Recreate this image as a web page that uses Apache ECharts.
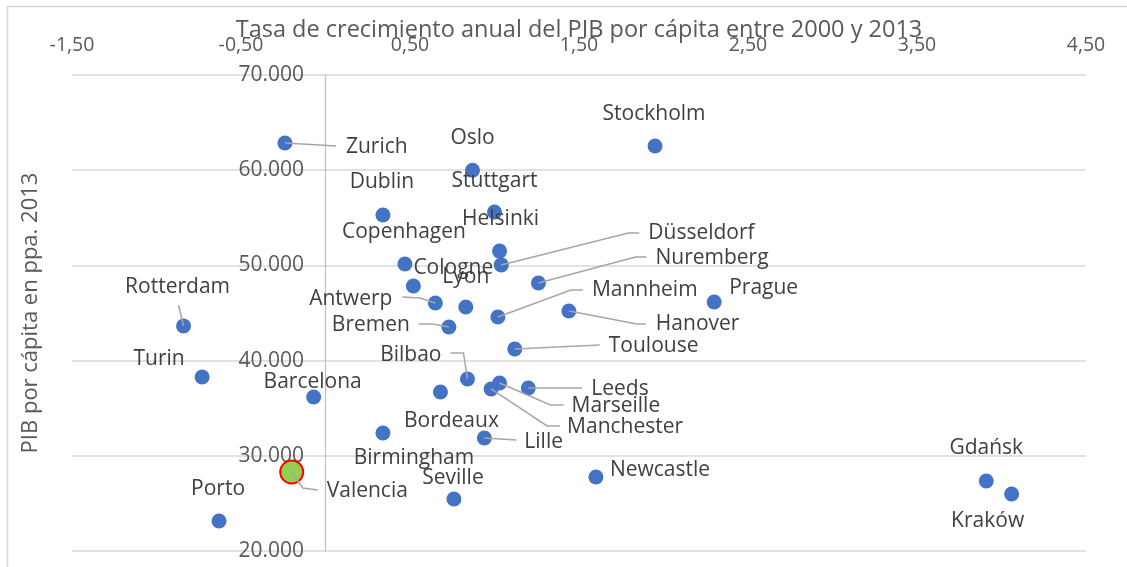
<!DOCTYPE html>
<html><head><meta charset="utf-8">
<script src="https://cdn.jsdelivr.net/npm/echarts@6/dist/echarts.min.js"></script>
<style>html,body{margin:0;padding:0;background:#fff}#c{width:1127px;height:567px}</style>
</head><body><div id="c"></div>
<script>
// ---- data ----
const cities = ['Zurich','Oslo','Stockholm','Stuttgart','Dublin','Helsinki','Copenhagen','Düsseldorf','Cologne','Lyon','Nuremberg','Antwerp','Bremen','Mannheim','Hanover','Prague','Toulouse','Rotterdam','Turin','Barcelona','Valencia','Porto','Bordeaux','Birmingham','Seville','Bilbao','Lille','Manchester','Marseille','Leeds','Newcastle','Gdańsk','Kraków'];
const growth = [-0.24,0.87,1.95,1.00,0.34,1.03,0.47,1.04,0.52,0.83,1.26,0.65,0.73,1.02,1.44,2.30,1.12,-0.84,-0.73,-0.07,-0.20,-0.63,0.68,0.34,0.76,0.84,0.94,0.98,1.03,1.20,1.60,3.91,4.06];
const gdp = [62860,60000,62540,55600,55300,51500,50150,50050,47840,45630,48150,46050,43530,44580,45210,46160,41220,43630,38280,36180,28300,23150,36700,32400,25460,38070,31870,37020,37650,37120,27770,27350,25990];
const xTickLabels = ['-1,50','-0,50','0,50','1,50','2,50','3,50','4,50'];
const yTickLabels = ['20.000','30.000','40.000','50.000','60.000','70.000'];
const highlighted = 'Valencia';
const xTitle = 'Tasa de crecimiento anual del PIB por cápita entre 2000 y 2013';
const yTitle = 'PIB por cápita en ppa. 2013';

// ---- label placement (pixel offsets from the dot) and leader lines ----
const place = {
  'Zurich':{o:[61,4],a:'left',l:[[0,0],[51,3]]},
  'Oslo':{o:[0,-32]},
  'Stockholm':{o:[-1,-32]},
  'Stuttgart':{o:[0,-31]},
  'Dublin':{o:[-1,-33]},
  'Helsinki':{o:[1,-32]},
  'Copenhagen':{o:[-1,-32]},
  'Düsseldorf':{o:[147,-32],a:'left',l:[[0,0],[127,-32],[138,-32]]},
  'Cologne':{o:[0,-18],a:'left'},
  'Lyon':{o:[0,-30]},
  'Nuremberg':{o:[117,-25],a:'left',l:[[0,0],[97,-26],[108,-26]]},
  'Antwerp':{o:[-43,-4],a:'right',l:[[0,0],[-15,-5],[-33,-6]]},
  'Bremen':{o:[-39,-2],a:'right',l:[[0,0],[-16,-3],[-30,-3]]},
  'Mannheim':{o:[94,-27],a:'left',l:[[0,0],[73,-27],[85,-27]]},
  'Hanover':{o:[87,13],a:'left',l:[[0,0],[68,13],[77,13]]},
  'Prague':{o:[15,-14],a:'left'},
  'Toulouse':{o:[94,-3],a:'left',l:[[0,0],[85,-4]]},
  'Rotterdam':{o:[-6,-39],l:[[0,0],[-5,-21]]},
  'Turin':{o:[-43,-18]},
  'Barcelona':{o:[-1,-15]},
  'Valencia':{o:[35,19],a:'left',l:[[0,0],[11,16],[26,18]]},
  'Porto':{o:[-1,-32]},
  'Bordeaux':{o:[11,29]},
  'Birmingham':{o:[31,25]},
  'Seville':{o:[-1,-21]},
  'Bilbao':{o:[-26,-24],a:'right',l:[[0,0],[-4,-26],[-17,-26]]},
  'Lille':{o:[40,4],a:'left',l:[[0,0],[32,2]]},
  'Manchester':{o:[76,38],a:'left',l:[[0,0],[56,37],[69,37]]},
  'Marseille':{o:[72,23],a:'left',l:[[0,0],[51,22],[64,22]]},
  'Leeds':{o:[63,1],a:'left',l:[[0,0],[54,0]]},
  'Newcastle':{o:[14,-7],a:'left'},
  'Gdańsk':{o:[0,-33]},
  'Kraków':{o:[-24,27]}
};

const FONT = '"Open Sans", "Noto Sans", sans-serif';
const chart = echarts.init(document.getElementById('c'), null, {renderer:'canvas'});

const scatterData = cities.map((name, i) => {
  const p = place[name] || {o:[0,-30]};
  const item = {
    name: name,
    value: [growth[i], gdp[i]],
    label: {align: p.a || 'center'}
  };
  if (name === highlighted) {
    item.symbolSize = 23;
    item.itemStyle = {color:'#92D050', borderColor:'#FF0000', borderWidth:2, opacity:1};
  }
  return item;
});
const leaderData = [];
cities.forEach((name, i) => { if (place[name] && place[name].l) leaderData.push([growth[i], gdp[i], i]); });

chart.setOption({
  animation: false,
  backgroundColor: '#ffffff',
  textStyle: {fontFamily: FONT},
  graphic: [{type:'rect', left:5, top:4, shape:{width:1300, height:700}, style:{fill:'none', stroke:'#d9d9d9', lineWidth:1.5}, silent:true, z:-10}],
  grid: {left:72, right:41, top:75, bottom:16, containLabel:false, outerBoundsMode:'none'},
  xAxis: {
    type:'value', position:'top', min:-1.5, max:4.5, interval:1,
    axisLine:{show:false, onZero:false}, axisTick:{show:false}, splitLine:{show:false},
    axisLabel:{margin:20, fontSize:19.5, color:'#595959', fontFamily:FONT,
      formatter: v => xTickLabels[Math.round(v + 1.5)]},
    name: xTitle, nameLocation:'middle', nameGap:33, nameMoveOverlap:false,
    nameTextStyle:{fontSize:23.5, color:'#595959', fontFamily:FONT}
  },
  yAxis: {
    type:'value', min:20000, max:70000, interval:10000,
    axisLine:{show:true, onZero:true, lineStyle:{color:'#bfbfbf', width:1.2}},
    axisTick:{show:false},
    splitLine:{show:true, lineStyle:{color:'#d9d9d9', width:1.5}},
    axisLabel:{margin:-232, fontSize:21, color:'#595959', fontFamily:FONT,
      formatter: v => yTickLabels[Math.round((v - 20000) / 10000)]},
    name: yTitle, nameLocation:'middle', nameRotate:90, nameGap:30,
    nameTextStyle:{fontSize:22, color:'#595959', fontFamily:FONT}
  },
  series: [
    {
      type:'scatter', symbolSize:15, z:2,
      itemStyle:{color:'#4472C4', opacity:1},
      label:{show:true, position:'inside', formatter:'{b}', fontSize:21, color:'#404040', fontFamily:FONT, verticalAlign:'middle'},
      labelLayout: function (params) {
        const p = place[cities[params.dataIndex]];
        return {dx: p.o[0], dy: p.o[1], hideOverlap:false};
      },
      emphasis:{disabled:true},
      data: scatterData
    },
    {
      type:'custom', coordinateSystem:'cartesian2d', z:3, silent:true,
      renderItem: function (params, api) {
        const c = api.coord([api.value(0), api.value(1)]);
        const pts = place[cities[api.value(2)]].l.map(d => [c[0] + d[0], c[1] + d[1]]);
        return {type:'polyline', shape:{points:pts}, style:{stroke:'#a6a6a6', lineWidth:1.5, fill:null}};
      },
      data: leaderData
    }
  ]
});
</script></body></html>
